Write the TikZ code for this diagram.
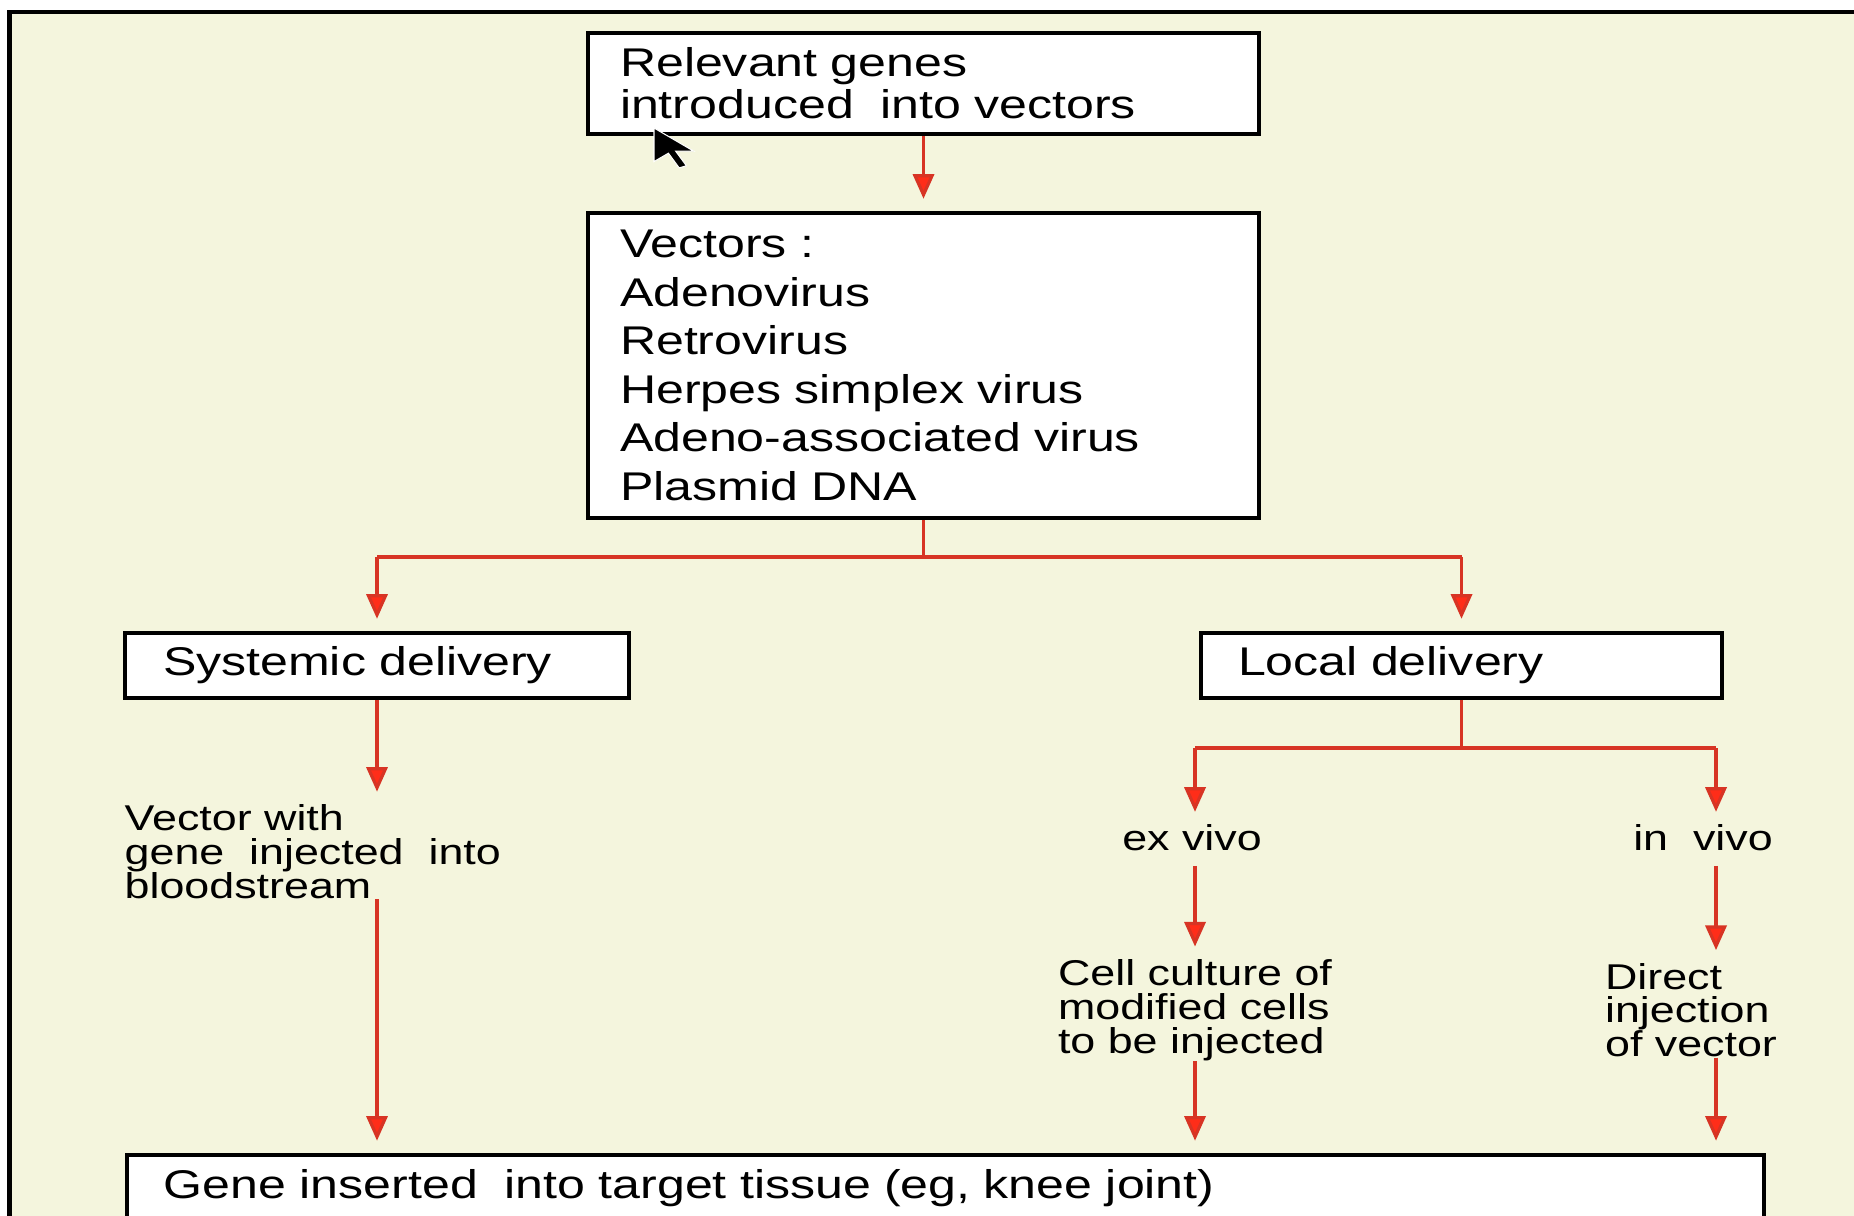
\documentclass[tikz,border=0pt]{standalone}
\usepackage{fontspec}
\setmainfont[FakeStretch=1.25]{Liberation Sans}
\usetikzlibrary{arrows.meta,calc}
\definecolor{paper}{RGB}{244,245,221}
\definecolor{linkred}{RGB}{215,52,36}
\definecolor{tipred}{RGB}{255,45,25}
\tikzset{
  box/.style={draw=black,line width=1.1pt,fill=white,align=left,inner xsep=0.32cm,
    font=\fontsize{11.4}{12}\selectfont},
  plain/.style={align=left,inner sep=0pt,font=\fontsize{10.2}{9.6}\selectfont},
  link/.style={linkred,line width=0.9pt},
  arr/.style={link,-{Triangle[width=6pt,length=7pt,fill=tipred]},shorten >=3.5pt}
}
\begin{document}
\begin{tikzpicture}
\useasboundingbox (0,0) rectangle (18.54,12.15);
\clip (0,0) rectangle (18.54,12.15);
%\fill[white] (0,0) rectangle (18.54,12.15);
\draw[black,line width=1.3pt,fill=paper] (0.095,-1) rectangle (20,12.03);

% boxes
\node[box,text width=6.07cm,minimum height=1.01cm] (genes) at (9.235,11.315)
  {Relevant genes\\introduced \ into vectors};
\node[box,text width=6.07cm,minimum height=3.05cm,
  font=\fontsize{11.4}{13.8}\selectfont] (vec) at (9.235,8.495)
  {Vectors :\\Adenovirus\\Retrovirus\\Herpes simplex virus\\Adeno-associated virus\\Plasmid DNA};
\node[box,text width=4.28cm,inner xsep=0.38cm,minimum height=0.65cm] (sys) at (3.77,5.495)
  {Systemic delivery};
\node[box,text width=4.47cm,inner xsep=0.37cm,minimum height=0.65cm] (loc) at (14.615,5.495)
  {Local delivery};
\node[box,anchor=north west,text width=15.63cm,inner xsep=0.37cm,inner ysep=0.135cm,
  text height=0.3cm,text depth=0.6cm] (gene) at (1.25,0.62)
  {Gene inserted \ into target tissue (eg, knee joint)};

% plain labels
\node[plain,anchor=north west] (blood) at (1.24,4.11)
  {Vector with\\gene \ injected \ into\\bloodstream};
\node[plain] (exv) at (11.92,3.77) {ex vivo};
\node[plain] (inv) at (17.03,3.77) {in \ vivo};
\node[plain] (cell) at (11.95,2.05) {Cell culture of\\modified cells\\to be injected};
\node[plain] (dir) at (16.91,2.05) {Direct\\injection\\of vector};

% cursor
\fill[black,draw=white,line width=0.3pt,x=0.036cm,y=0.021cm,shift={(6.54cm,10.87cm)}]
  (0,0) -- (0,-16) -- (4,-12) -- (7,-19) -- (9,-18) -- (6,-11) -- (11,-11) -- cycle;

% connectors
\draw[arr] (genes) -- (vec);
\coordinate (j1) at ($(vec.south)+(0,-0.37)$);
\draw[link] (vec.south) -- (j1);
\draw[link] (sys.north |- j1) -- (loc.north |- j1);
\draw[arr] (sys.north |- j1) -- (sys.north);
\draw[arr] (loc.north |- j1) -- (loc.north);
\draw[arr] (sys.south) -- (sys.south |- blood.north);
\draw[arr] (sys.south |- blood.south) -- (sys.south |- gene.north);

\coordinate (jl) at (11.95,4.67);
\coordinate (jr) at (17.16,4.67);
\draw[link] (loc.south) -- (loc.south |- jl);
\draw[link] (jl) -- (jr);
\draw[arr] (jl) -- (jl |- exv.north);
\draw[arr] (jr) -- (jr |- inv.north);
\draw[arr,shorten <=4pt] (jl |- exv.south) -- (jl |- cell.north);
\draw[arr,shorten <=4pt] (jr |- inv.south) -- (jr |- dir.north);
\draw[arr] (jl |- cell.south) -- (jl |- gene.north);
\draw[arr] (jr |- dir.south) -- (jr |- gene.north);
\end{tikzpicture}
\end{document}
